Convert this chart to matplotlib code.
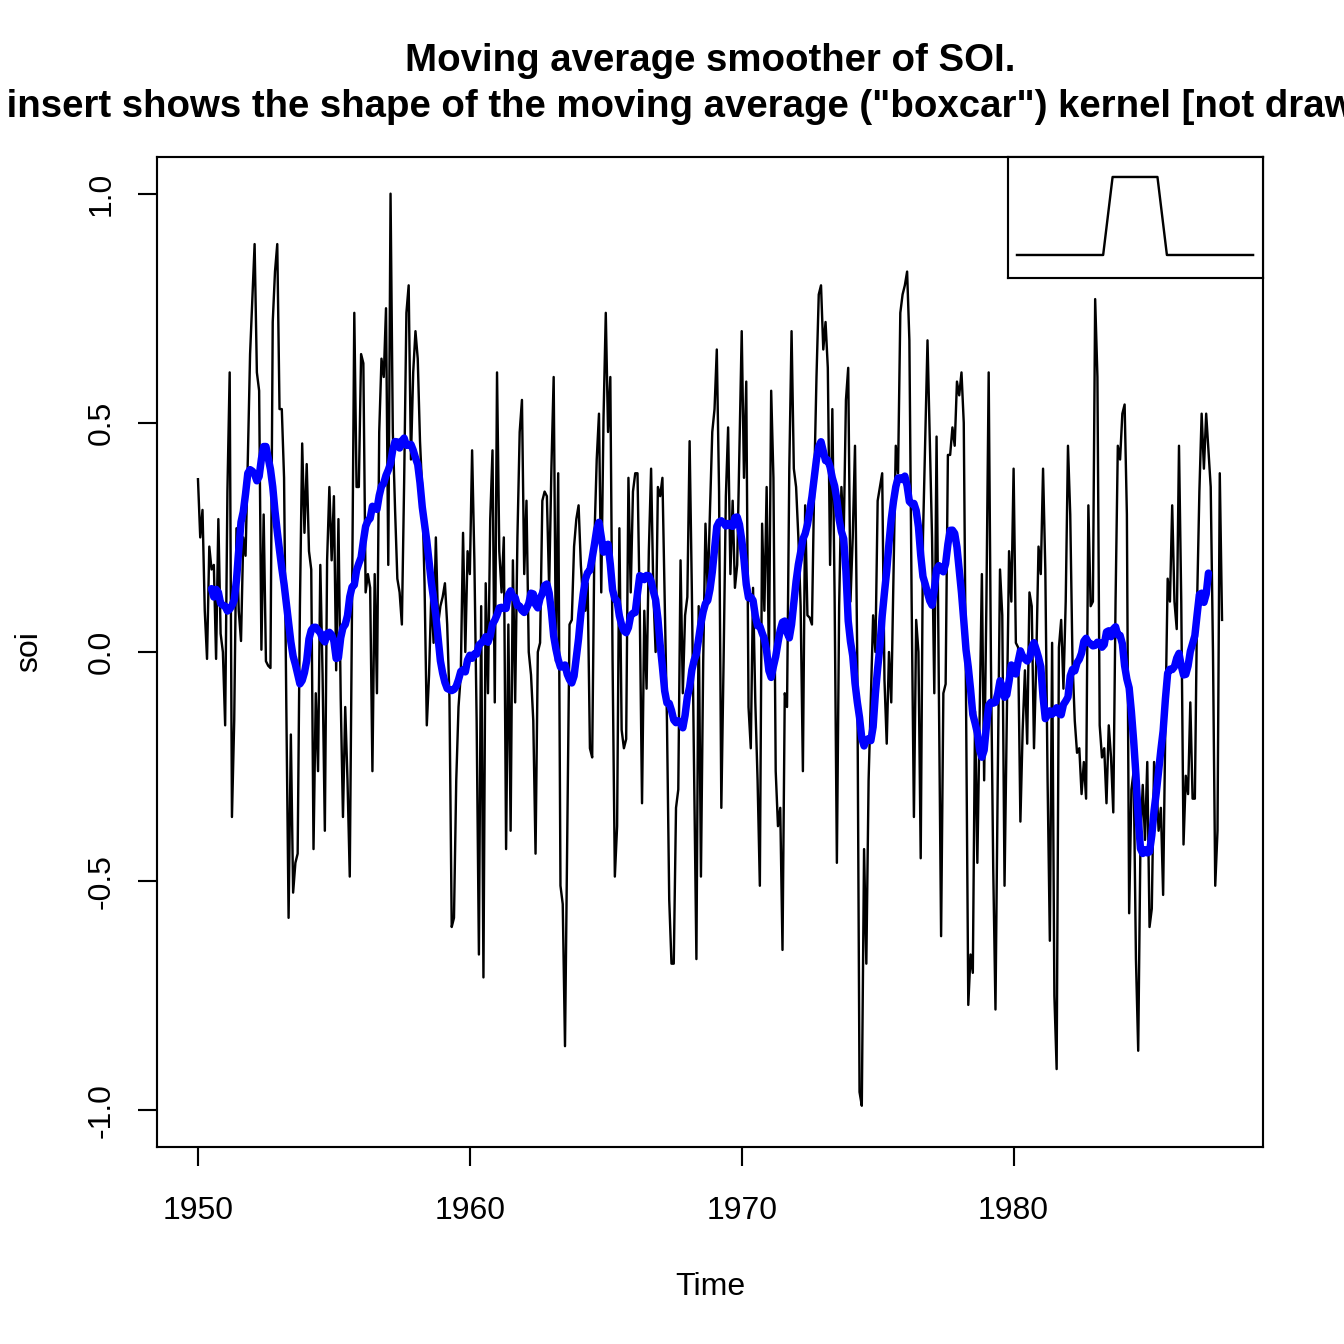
import numpy as np
import matplotlib
matplotlib.use("Agg")
import matplotlib.pyplot as plt

# Monthly Southern Oscillation Index, Jan 1950 .. Sep 1987
soi = [
    0.377, 0.25, 0.31, 0.09, -0.015, 0.23, 0.18, 0.19, -0.015, 0.29, 0.04, 0.0,
    -0.16, 0.35, 0.61, -0.36, -0.15, 0.27, 0.09, 0.024, 0.25, 0.21, 0.42, 0.65,
    0.77, 0.89, 0.61, 0.57, 0.005, 0.30, -0.02, -0.03, -0.035, 0.72, 0.83, 0.89,
    0.53, 0.53, 0.38, -0.12, -0.58, -0.18, -0.525, -0.46, -0.44, 0.10, 0.455, 0.26,
    0.41, 0.22, 0.18, -0.43, -0.09, -0.26, 0.19, -0.05, -0.39, 0.20, 0.36, 0.20,
    0.34, -0.04, 0.29, -0.10, -0.36, -0.12, -0.28, -0.49, 0.10, 0.74, 0.36, 0.36,
    0.65, 0.63, 0.13, 0.17, 0.14, -0.26, 0.17, -0.09, 0.48, 0.64, 0.60, 0.75,
    0.19, 1.00, 0.48, 0.31, 0.16, 0.13, 0.06, 0.37, 0.74, 0.80, 0.42, 0.61,
    0.70, 0.64, 0.46, 0.35, 0.15, -0.16, -0.05, 0.13, 0.02, 0.25, 0.06, 0.10,
    0.12, 0.15, 0.06, -0.10, -0.60, -0.58, -0.28, -0.12, -0.05, 0.26, 0.0, 0.22,
    0.17, 0.44, 0.20, -0.15, -0.66, 0.10, -0.71, 0.15, -0.09, 0.29, 0.44, -0.11,
    0.61, 0.22, 0.13, 0.25, -0.43, 0.06, -0.39, 0.20, -0.11, 0.25, 0.48, 0.55,
    0.17, 0.33, 0.0, -0.05, -0.15, -0.44, 0.0, 0.02, 0.33, 0.35, 0.34, 0.14,
    0.40, 0.60, -0.02, 0.39, -0.51, -0.55, -0.86, -0.40, 0.06, 0.07, 0.23, 0.29,
    0.32, 0.19, 0.11, 0.09, 0.15, -0.21, -0.23, 0.25, 0.42, 0.52, 0.13, 0.51,
    0.74, 0.48, 0.60, -0.02, -0.49, -0.38, 0.27, -0.17, -0.21, -0.19, 0.38, 0.13,
    0.35, 0.39, 0.39, 0.09, -0.33, 0.09, -0.08, 0.22, 0.40, 0.13, 0.0, 0.36,
    0.34, 0.38, 0.11, -0.15, -0.54, -0.68, -0.68, -0.34, -0.30, 0.20, -0.09, 0.08,
    0.12, 0.46, 0.13, -0.28, -0.67, 0.10, -0.49, -0.02, 0.28, 0.13, 0.31, 0.48,
    0.53, 0.66, 0.35, -0.34, -0.02, 0.34, 0.49, 0.17, 0.33, 0.14, 0.19, 0.44,
    0.70, 0.38, 0.59, -0.12, -0.21, 0.14, -0.11, -0.28, -0.51, 0.28, 0.09, 0.36,
    -0.02, 0.57, 0.38, -0.26, -0.38, -0.34, -0.65, -0.09, -0.12, 0.40, 0.70, 0.40,
    0.36, 0.25, 0.10, -0.26, 0.32, 0.08, 0.075, 0.06, 0.37, 0.60, 0.78, 0.80,
    0.66, 0.72, 0.62, 0.19, 0.53, 0.12, -0.46, 0.10, 0.36, 0.25, 0.55, 0.62,
    0.11, 0.25, 0.45, -0.02, -0.96, -0.99, -0.43, -0.68, -0.28, -0.10, 0.08, 0.0,
    0.33, 0.36, 0.39, -0.06, -0.20, 0.0, -0.11, 0.17, 0.45, 0.39, 0.74, 0.78,
    0.80, 0.83, 0.68, 0.11, -0.36, 0.07, 0.0, -0.45, 0.25, 0.47, 0.68, 0.47,
    0.25, -0.09, 0.47, -0.08, -0.62, -0.09, -0.07, 0.43, 0.43, 0.49, 0.45, 0.59,
    0.56, 0.61, 0.50, -0.10, -0.77, -0.66, -0.70, -0.13, -0.46, -0.15, 0.17, -0.28,
    0.11, 0.61, -0.02, -0.47, -0.78, -0.28, 0.18, 0.08, -0.51, -0.15, 0.22, 0.11,
    0.40, 0.02, 0.01, -0.37, -0.17, -0.04, -0.20, 0.13, 0.10, -0.21, -0.02, 0.23,
    0.17, 0.40, 0.18, -0.28, -0.63, 0.02, -0.75, -0.91, 0.01, 0.07, -0.08, 0.11,
    0.45, 0.30, -0.02, -0.15, -0.22, -0.21, -0.31, -0.24, -0.32, 0.32, 0.10, 0.11,
    0.77, 0.60, -0.16, -0.23, -0.21, -0.33, -0.16, -0.23, -0.35, 0.11, 0.45, 0.42,
    0.52, 0.54, 0.30, -0.57, -0.30, -0.26, -0.67, -0.87, -0.41, -0.29, -0.41, -0.24,
    -0.60, -0.56, -0.24, -0.28, -0.39, -0.34, -0.53, -0.15, 0.16, 0.11, 0.32, 0.11,
    0.05, 0.45, 0.11, -0.42, -0.27, -0.31, -0.11, -0.32, -0.32, 0.11, 0.35, 0.52,
    0.40, 0.52, 0.44, 0.36, 0.0, -0.51, -0.39, 0.39, 0.07,
]
start_year = 1950
x_ticks = [1950, 1960, 1970, 1980]
y_ticks = [-1.0, -0.5, 0.0, 0.5, 1.0]
y_tick_labels = ["-1.0", "-0.5", "0.0", "0.5", "1.0"]

# boxcar kernel shape for the insert
kernel_x = [-1.0, -0.27, -0.19, 0.19, 0.27, 1.0]
kernel_y = [0, 0, 1, 1, 0, 0]

title1 = "Moving average smoother of SOI."
title2 = 'The insert shows the shape of the moving average ("boxcar") kernel [not drawn to scale]'

plt.rcParams["font.family"] = ["Liberation Sans", "DejaVu Sans"]

soi = np.array(soi)
n = len(soi)
t = start_year + np.arange(n) / 12.0
w = np.r_[0.5, np.ones(11), 0.5] / 12.0
smooth = np.convolve(soi, w, mode="valid")
t_s = t[6:n - 6]

W = H = 1344
fig = plt.figure(figsize=(7, 7), dpi=192)
L, R, T, B = 157, 1263, 157, 1147
ax = fig.add_axes([L / W, 1 - B / H, (R - L) / W, (B - T) / H])
ax.plot(t, soi, color="black", lw=0.9)
ax.plot(t_s, smooth, color="#0000FF", lw=2.8, solid_capstyle="round")

rng = t[-1] - t[0]
ax.set_xlim(t[0] - 0.04 * rng, t[-1] + 0.04 * rng)
ax.set_ylim(-1.08, 1.08)
ax.set_xticks(x_ticks)
ax.set_xticklabels([str(v) for v in x_ticks])
ax.set_yticks(y_ticks)
ax.set_yticklabels(y_tick_labels, rotation=90, va="center")
ax.tick_params(direction="out", length=7.2, width=0.8, labelsize=12, colors="black")
ax.tick_params(axis="x", pad=11)
ax.tick_params(axis="y", pad=8)
for s in ax.spines.values():
    s.set_linewidth(0.8)
ax.set_xlabel("Time", fontsize=12, labelpad=17.5)
ax.set_ylabel("soi", fontsize=12, labelpad=16)

cx = ((L + R) / 2) / W
fig.text(cx, 1 - 61 / H, title1, ha="center", va="center", fontsize=14.4, fontweight="bold")
fig.text(cx + 26 / W, 1 - 107 / H, title2, ha="center", va="center", fontsize=14.4, fontweight="bold")

# insert
IL, IR, IT, IB = 1008, 1263, 157, 278
ins = fig.add_axes([IL / W, 1 - IB / H, (IR - IL) / W, (IB - IT) / H])
ins.plot(kernel_x, kernel_y, color="black", lw=0.9)
ins.set_xlim(-1.076, 1.084)
ins.set_ylim(-0.295, 1.256)
ins.set_xticks([])
ins.set_yticks([])
ins.set_facecolor("white")
for s in ins.spines.values():
    s.set_linewidth(0.8)

fig.savefig("out.png", dpi=192)
